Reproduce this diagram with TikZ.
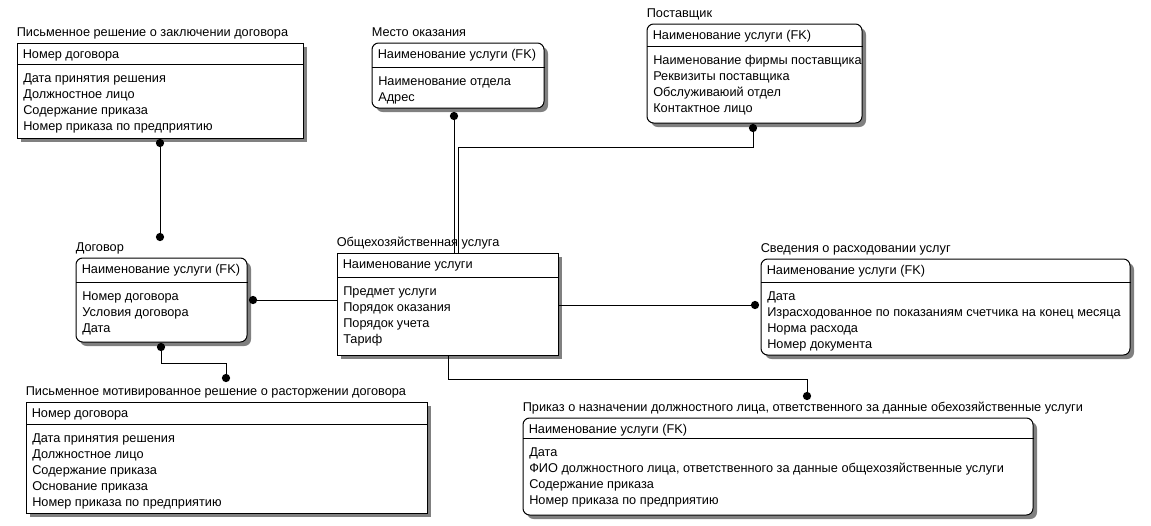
\documentclass[tikz,border=0pt]{standalone}
\usepackage{fontspec}
\setmainfont{Liberation Sans}
\usetikzlibrary{positioning,fit,shadows,calc}

\begin{document}
\begin{tikzpicture}[x=0.75pt, y=-0.75pt, font=\fontsize{9.55}{12}\selectfont,
  ent/.style={draw, fill=white, line width=0.75pt, inner sep=0pt,
    drop shadow={shadow xshift=3pt, shadow yshift=-3pt, fill=black!50, opacity=1}},
  dep/.style={ent, rounded corners=5pt},
  ttl/.style={anchor=base west, inner sep=0pt, yshift=4.5pt},
  keyattr/.style={anchor=base west, inner sep=0pt, xshift=4.5pt, yshift=-11.75pt},
  attrs/.style={anchor=north west, inner sep=0pt, align=left, xshift=4.5pt, yshift=-7pt,
    execute at begin node=\strut},
  sep/.style={line width=0.75pt},
  rel/.style={line width=0.75pt},
  dot/.style={circle, fill, inner sep=0pt, minimum size=6.2pt},
]
\useasboundingbox (0,0) rectangle (1151,525);

%% Письменное решение о заключении договора
\node[ent, fit={(17,43) (303,138)}] (zakl) {};
\coordinate (zakld) at (17,64);
\draw[sep] (zakld) -- (zakld -| zakl.east);
\node[ttl] at (zakl.north west) {Письменное решение о заключении договора};
\node[keyattr] at (zakl.north west) {Номер договора};
\node[attrs] at (zakld) {Дата принятия решения\\Должностное лицо\\Содержание приказа\\Номер приказа по предприятию};

%% Место оказания
\node[dep, fit={(372,43) (544,108)}] (mesto) {};
\coordinate (mestod) at (372,67);
\draw[sep] (mestod) -- (mestod -| mesto.east);
\node[ttl] at (mesto.north west) {Место оказания};
\node[keyattr] at (mesto.north west) {Наименование услуги (FK)};
\node[attrs] at (mestod) {Наименование отдела\\Адрес};

%% Поставщик
\node[dep, fit={(647,24) (862,123)}] (postav) {};
\coordinate (postavd) at (647,46);
\draw[sep] (postavd) -- (postavd -| postav.east);
\node[ttl] at (postav.north west) {Поставщик};
\node[keyattr] at (postav.north west) {Наименование услуги (FK)};
\node[attrs] at (postavd) {Наименование фирмы поставщика\\Реквизиты поставщика\\Обслуживаюий отдел\\Контактное лицо};

%% Договор
\node[dep, fit={(76,258) (247,342)}] (dogovor) {};
\coordinate (dogovord) at (76,282);
\draw[sep] (dogovord) -- (dogovord -| dogovor.east);
\node[ttl] at (dogovor.north west) {Договор};
\node[keyattr] at (dogovor.north west) {Наименование услуги (FK)};
\node[attrs] at (dogovord) {Номер договора\\Условия договора\\Дата};

%% Общехозяйственная услуга
\node[ent, fit={(337,253) (558,355)}] (usluga) {};
\coordinate (uslugad) at (337,277);
\draw[sep] (uslugad) -- (uslugad -| usluga.east);
\node[ttl] at (usluga.north west) {Общехозяйственная услуга};
\node[keyattr] at (usluga.north west) {Наименование услуги};
\node[attrs] at (uslugad) {Предмет услуги\\Порядок оказания\\Порядок учета\\Тариф};

%% Сведения о расходовании услуг
\node[dep, fit={(761,259) (1130,355)}] (sved) {};
\coordinate (svedd) at (761,282);
\draw[sep] (svedd) -- (svedd -| sved.east);
\node[ttl] at (sved.north west) {Сведения о расходовании услуг};
\node[keyattr] at (sved.north west) {Наименование услуги (FK)};
\node[attrs] at (svedd) {Дата\\Израсходованное по показаниям счетчика на конец месяца\\Норма расхода\\Номер документа};

%% Письменное мотивированное решение о расторжении договора
\node[ent, fit={(26,402) (427,513)}] (motiv) {};
\coordinate (motivd) at (26,424);
\draw[sep] (motivd) -- (motivd -| motiv.east);
\node[ttl] at (motiv.north west) {Письменное мотивированное решение о расторжении договора};
\node[keyattr] at (motiv.north west) {Номер договора};
\node[attrs] at (motivd) {Дата принятия решения\\Должностное лицо\\Содержание приказа\\Основание приказа\\Номер приказа по предприятию};

%% Приказ о назначении должностного лица
\node[dep, fit={(523,418) (1033,515)}] (prikaz) {};
\coordinate (prikazd) at (523,438);
\draw[sep] (prikazd) -- (prikazd -| prikaz.east);
\node[ttl] at (prikaz.north west) {Приказ о назначении должностного лица, ответственного за данные обехозяйственные услуги};
\node[keyattr] at (prikaz.north west) {Наименование услуги (FK)};
\node[attrs] at (prikazd) {Дата\\ФИО должностного лица, ответственного за данные общехозяйственные услуги\\Содержание приказа\\Номер приказа по предприятию};

%% Relationship ends
\node[dot] (zakldot) at (160,143) {};
\node[dot] (dogtop) at (160,237) {};
\node[dot] (dogbot) at (161,347) {};
\node[dot] (motivdot) at (226,378) {};
\node[dot] (dogright) at (253,300) {};
\node[dot] (mestodot) at (454,116) {};
\node[dot] (postavdot) at (753,128) {};
\node[dot] (sveddot) at (755,305) {};
\node[dot] (prikazdot) at (807,396) {};
\coordinate (bend1) at (226,363);
\coordinate (bend2) at (458,147);
\coordinate (bend3) at (448,379);

%% Relationships
\draw[rel] (zakldot) -- (dogtop);
\draw[rel] (dogbot) |- (bend1) -- (motivdot);
\draw[rel] (dogright) -- (dogright -| usluga.west);
\draw[rel] (mestodot) -- (mestodot |- usluga.north);
\draw[rel] (postavdot) |- (bend2) -- (bend2 |- usluga.north);
\draw[rel] (usluga.east |- sveddot) -- (sveddot);
\draw[rel] (bend3 |- usluga.south) -- (bend3) -| (prikazdot);

\end{tikzpicture}
\end{document}
